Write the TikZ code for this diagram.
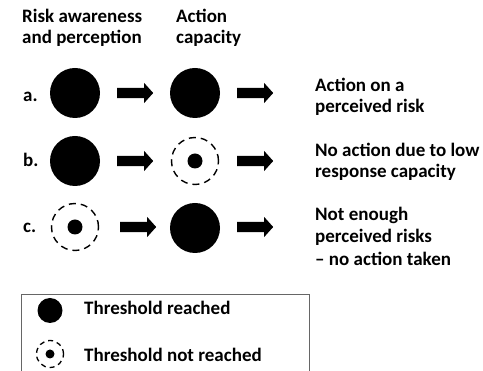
\documentclass[tikz,border=0pt]{standalone}
\usepackage{fontspec}
\setmainfont{Carlito}
\usetikzlibrary{shapes.arrows}
\tikzset{
  full/.style={circle,fill=black,draw=none,minimum size=50pt,inner sep=0pt},
  ring/.style={circle,draw=black,dashed,dash pattern=on 7pt off 5pt,line width=1.4pt,minimum size=47pt,inner sep=0pt},
  dot/.style={circle,fill=black,minimum size=15pt,inner sep=0pt},
  blockarrow/.style={single arrow,fill=black,draw=none,minimum height=36pt,minimum width=20pt,single arrow head extend=5pt,single arrow tip angle=96,inner xsep=0pt,inner ysep=5pt,anchor=west},
  txt/.style={font=\fontsize{19pt}{22pt}\selectfont\bfseries,anchor=base west,inner sep=0pt}
}
\begin{document}
\begin{tikzpicture}[x=1pt,y=-1pt]
\useasboundingbox (0,0) rectangle (483,371);
% headers
\node[txt] (h1a) at (22,23) {Risk awareness};
\node[txt] (h1b) at (22,44) {and perception};
\node[txt] (h2a) at (176,23) {Action};
\node[txt] (h2b) at (176,44) {capacity};
% row a
\node[txt] (la) at (23,102) {a.};
\node[full] (a1) at (75,93) {};
\node[blockarrow] (aa1) at (117,93) {};
\node[full] (a2) at (195,93) {};
\node[blockarrow] (aa2) at (237,93) {};
\node[txt] (ta1) at (315,92) {Action on a};
\node[txt] (ta2) at (315,113) {perceived risk};
% row b
\node[txt] (lb) at (23,167) {b.};
\node[full] (b1) at (75,161) {};
\node[blockarrow] (ab1) at (117,161) {};
\node[ring] (b2) at (195,161) {};
\node[dot] (b2d) at (b2) {};
\node[blockarrow] (ab2) at (237,161) {};
\node[txt] (tb1) at (315,157) {No action due to low};
\node[txt] (tb2) at (315,178) {response capacity};
% row c
\node[txt] (lc) at (23,233) {c.};
\node[ring] (c1) at (75,227) {};
\node[dot] (c1d) at (c1) {};
\node[blockarrow] (ac1) at (120,227) {};
\node[full] (c2) at (195,228) {};
\node[blockarrow] (ac2) at (237,227) {};
\node[txt] (tc1) at (315,221) {Not enough};
\node[txt] (tc2) at (315,243) {perceived risks};
\node[txt] (tc3) at (315,266) {– no action taken};
% legend
\draw[draw=black!60,line width=1pt] (21,380) -- (21,295) -- (309,295) -- (309,380);
\node[full,minimum size=25pt] (l1) at (50,310.5) {};
\node[txt] (lt1) at (84,315) {Threshold reached};
\node[circle,draw=black,dashed,dash pattern=on 5pt off 4pt,line width=1.3pt,minimum size=27pt,inner sep=0pt] (l2) at (50,354) {};
\node[dot,minimum size=9pt] (l2d) at (l2) {};
\node[txt] (lt2) at (84,362) {Threshold not reached};
\end{tikzpicture}
\end{document}
